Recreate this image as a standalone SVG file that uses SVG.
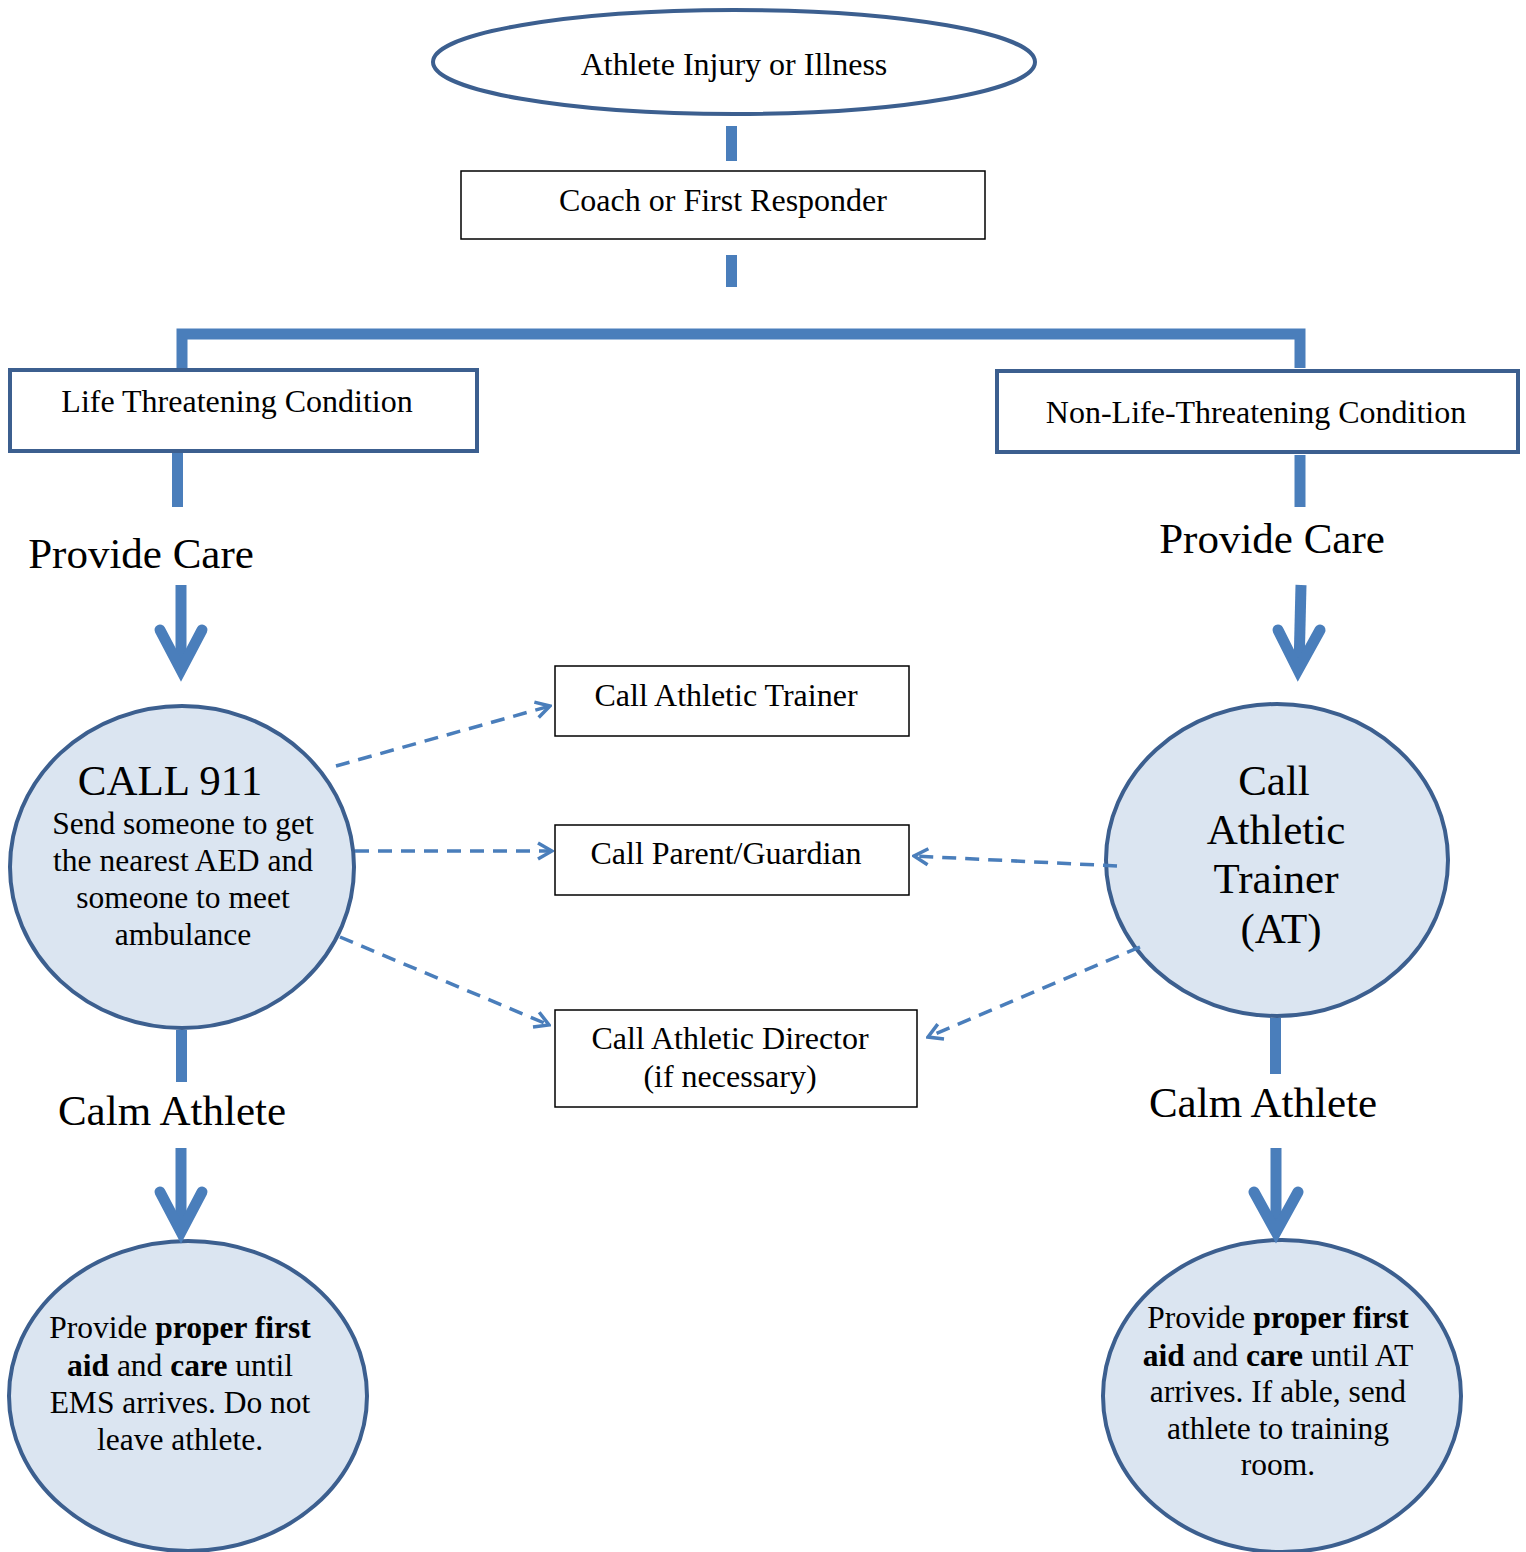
<svg xmlns="http://www.w3.org/2000/svg" width="1526" height="1552" viewBox="0 0 1526 1552">
<defs>
<style>
text{font-family:"Liberation Serif","Times New Roman",serif;fill:#000;text-anchor:middle}
.t29{font-size:32px}
.t28{font-size:31.5px}
.t40{font-size:43px}
.b{font-weight:bold}
.circ{fill:#dbe5f1;stroke:#3c5f8f;stroke-width:4}
.bigbox{fill:#fff;stroke:#3c5f8f;stroke-width:4}
.box{fill:#fff;stroke:#000;stroke-width:1.5}
.thick{stroke:#4a7ebb;stroke-width:11;fill:none}
.head{stroke:#4a7ebb;stroke-width:11;fill:none;stroke-linecap:round;stroke-linejoin:miter}
.dash{stroke:#4a7ebb;stroke-width:3.5;fill:none;stroke-dasharray:14 9}
</style>
<marker id="oa" viewBox="0 0 20 20" refX="18" refY="10" markerWidth="20" markerHeight="20" markerUnits="userSpaceOnUse" orient="auto">
<path d="M4,2 L18,10 L4,18" fill="none" stroke="#4a7ebb" stroke-width="3.5"/>
</marker>
</defs>
<rect width="1526" height="1552" fill="#fff"/>

<g id="n-injury">
<ellipse cx="734" cy="62" rx="301" ry="52" fill="#fff" stroke="#3c5f8f" stroke-width="4"/>
<text class="t29" x="734" y="75">Athlete Injury or Illness</text>
</g>
<g id="n-coach">
<rect class="box" x="461" y="171" width="524" height="68"/>
<text class="t29" x="723" y="211">Coach or First Responder</text>
</g>
<g id="n-life">
<rect class="bigbox" x="10" y="370" width="467" height="81"/>
<text class="t29" x="237" y="412">Life Threatening Condition</text>
</g>
<g id="n-nonlife">
<rect class="bigbox" x="997" y="371" width="521" height="81"/>
<text class="t29" x="1256" y="423">Non-Life-Threatening Condition</text>
</g>
<g id="l-provide-left"><text class="t40" x="141" y="568">Provide Care</text></g>
<g id="l-provide-right"><text class="t40" x="1272" y="553">Provide Care</text></g>
<g id="n-call911">
<ellipse class="circ" cx="182" cy="867" rx="172" ry="161"/>
<text class="t40" x="170" y="795">CALL 911</text>
<text class="t28" x="183" y="834">Send someone to get</text>
<text class="t28" x="183" y="871">the nearest AED and</text>
<text class="t28" x="183" y="908">someone to meet</text>
<text class="t28" x="183" y="945">ambulance</text>
</g>
<g id="n-callat">
<rect class="box" x="555" y="666" width="354" height="70"/>
<text class="t29" x="726" y="706">Call Athletic Trainer</text>
</g>
<g id="n-parent">
<rect class="box" x="555" y="825" width="354" height="70"/>
<text class="t29" x="726" y="864">Call Parent/Guardian</text>
</g>
<g id="n-director">
<rect class="box" x="555" y="1010" width="362" height="97"/>
<text class="t29" x="730" y="1049">Call Athletic Director</text>
<text class="t29" x="730" y="1087">(if necessary)</text>
</g>
<g id="n-callat-right">
<ellipse class="circ" cx="1277" cy="860" rx="171" ry="156"/>
<text class="t40" x="1274" y="795">Call</text>
<text class="t40" x="1276" y="844">Athletic</text>
<text class="t40" x="1276" y="893">Trainer</text>
<text class="t40" x="1281" y="943">(AT)</text>
</g>
<g id="l-calm-left"><text class="t40" x="172" y="1125">Calm Athlete</text></g>
<g id="l-calm-right"><text class="t40" x="1263" y="1117">Calm Athlete</text></g>
<g id="n-firstaid-left">
<ellipse class="circ" cx="188" cy="1396" rx="179" ry="155"/>
<text class="t28" x="180" y="1338">Provide <tspan class="b">proper first</tspan></text>
<text class="t28" x="180" y="1376"><tspan class="b">aid</tspan> and <tspan class="b">care</tspan> until</text>
<text class="t28" x="180" y="1413">EMS arrives. Do not</text>
<text class="t28" x="180" y="1450">leave athlete.</text>
</g>
<g id="n-firstaid-right">
<ellipse class="circ" cx="1282" cy="1396" rx="179" ry="156"/>
<text class="t28" x="1278" y="1328">Provide <tspan class="b">proper first</tspan></text>
<text class="t28" x="1278" y="1366"><tspan class="b">aid</tspan> and <tspan class="b">care</tspan> until AT</text>
<text class="t28" x="1278" y="1402">arrives. If able, send</text>
<text class="t28" x="1278" y="1439">athlete to training</text>
<text class="t28" x="1278" y="1475">room.</text>
</g>

<g id="connectors">
<line class="thick" x1="731.5" y1="126" x2="731.5" y2="161"/>
<line class="thick" x1="731.5" y1="255" x2="731.5" y2="287"/>
<polyline class="thick" points="182,368 182,334 1300,334 1300,368"/>
<line class="thick" x1="177.5" y1="453" x2="177.5" y2="507"/>
<line class="thick" x1="1300" y1="455" x2="1300" y2="507"/>
<line class="thick" x1="181" y1="585" x2="181" y2="668"/>
<polyline class="head" points="160,630 181,670 202,630"/>
<line class="thick" x1="1301" y1="585" x2="1299" y2="668"/>
<polyline class="head" points="1278,630 1298,670 1320,630"/>
<line class="thick" x1="181.5" y1="1030" x2="181.5" y2="1082"/>
<line class="thick" x1="1275.5" y1="1018" x2="1275.5" y2="1074"/>
<line class="thick" x1="181" y1="1148" x2="181" y2="1230"/>
<polyline class="head" points="160,1192 181,1232 202,1192"/>
<line class="thick" x1="1276" y1="1148" x2="1276" y2="1230"/>
<polyline class="head" points="1254,1192 1276,1232 1298,1192"/>
<line class="dash" x1="336" y1="766" x2="550" y2="706" marker-end="url(#oa)"/>
<line class="dash" x1="355" y1="851" x2="552" y2="851" marker-end="url(#oa)"/>
<line class="dash" x1="340" y1="937" x2="549" y2="1025" marker-end="url(#oa)"/>
<line class="dash" x1="1117" y1="866" x2="914" y2="856" marker-end="url(#oa)"/>
<line class="dash" x1="1140" y1="947" x2="928" y2="1037" marker-end="url(#oa)"/>
</g>
</svg>
